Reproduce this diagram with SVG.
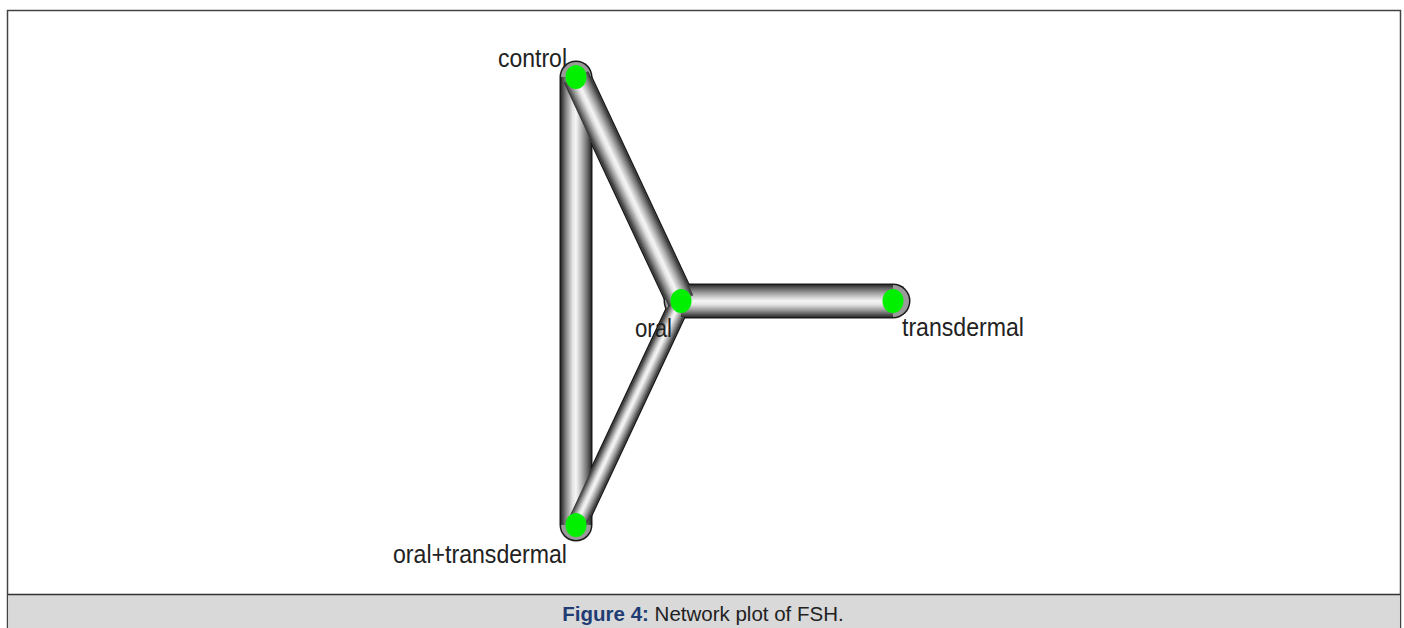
<svg xmlns="http://www.w3.org/2000/svg" width="1404" height="628" viewBox="0 0 1404 628">
  <defs>
    <linearGradient id="tube" x1="0" y1="0" x2="0" y2="1">
      <stop offset="0" stop-color="#2e2e2e"/>
      <stop offset="0.12" stop-color="#6a6a6a"/>
      <stop offset="0.3" stop-color="#b2b2b2"/>
      <stop offset="0.5" stop-color="#f6f6f6"/>
      <stop offset="0.62" stop-color="#e2e2e2"/>
      <stop offset="0.82" stop-color="#8a8a8a"/>
      <stop offset="1" stop-color="#2e2e2e"/>
    </linearGradient>
    <style>
      .under { stroke: #1a1a1a; stroke-linecap: round; fill: none; }
      .capfill { stroke: #9a9a9a; stroke-linecap: round; fill: none; }
      .tube { fill: url(#tube); }
      .node { fill: #00f000; }
      .lbl { font-family: "Liberation Sans", Arial, sans-serif; font-size: 26px; fill: #222; }
      .cap { font-family: "Liberation Sans", Arial, sans-serif; font-size: 20.5px; fill: #222; }
      .capb { font-weight: bold; fill: #1f3c73; }
    </style>
  </defs>

  <!-- frame and caption band -->
  <rect x="7.5" y="10.5" width="1393" height="640" fill="#ffffff" stroke="#444" stroke-width="1.5"/>
  <rect x="8.25" y="595" width="1391.5" height="40" fill="#d9d9d9"/>
  <line x1="7.5" y1="594.5" x2="1400.5" y2="594.5" stroke="#333" stroke-width="1.5"/>
  <text class="cap" x="703" y="621" text-anchor="middle"><tspan class="capb">Figure 4:</tspan> Network plot of FSH.</text>

  <g id="edges">
    <!-- outline underlays -->
    <line class="under" x1="576" y1="77" x2="576" y2="525" stroke-width="33"/>
    <line class="under" x1="681" y1="301" x2="576" y2="525" stroke-width="22"/>
    <line class="under" x1="681" y1="301" x2="893" y2="301" stroke-width="35"/>
    <line class="under" x1="576" y1="77" x2="681" y2="301" stroke-width="30"/>
    <!-- rounded end fills -->
    <line class="capfill" x1="576" y1="77" x2="576" y2="525" stroke-width="30"/>
    <line class="capfill" x1="681" y1="301" x2="576" y2="525" stroke-width="19"/>
    <line class="capfill" x1="681" y1="301" x2="893" y2="301" stroke-width="32"/>
    <line class="capfill" x1="576" y1="77" x2="681" y2="301" stroke-width="27"/>
    <!-- shaded tubes -->
    <g id="edge-control-oraltrans" transform="translate(576,77) rotate(90)">
      <rect class="tube" x="0" y="-15" width="448" height="30"/>
    </g>
    <g id="edge-oral-oraltrans" transform="translate(681,301) rotate(115.12)">
      <rect class="tube" x="0" y="-9.5" width="247.4" height="19"/>
    </g>
    <g id="edge-oral-transdermal" transform="translate(681,301)">
      <rect class="tube" x="0" y="-16" width="212" height="32"/>
    </g>
    <g id="edge-control-oral" transform="translate(576,77) rotate(64.88)">
      <rect class="tube" x="0" y="-13.5" width="247.4" height="27"/>
    </g>
  </g>

  <g id="node-control">
    <ellipse class="node" cx="576" cy="77" rx="10.5" ry="12"/>
    <text class="lbl" x="498" y="67" textLength="69" lengthAdjust="spacingAndGlyphs">control</text>
  </g>
  <g id="node-oral">
    <ellipse class="node" cx="681" cy="301" rx="10.5" ry="12"/>
    <text class="lbl" x="635" y="337" textLength="37" lengthAdjust="spacingAndGlyphs">oral</text>
  </g>
  <g id="node-transdermal">
    <ellipse class="node" cx="893" cy="301" rx="10.5" ry="12"/>
    <text class="lbl" x="902" y="336" textLength="122" lengthAdjust="spacingAndGlyphs">transdermal</text>
  </g>
  <g id="node-oral-transdermal">
    <ellipse class="node" cx="576" cy="525" rx="10.5" ry="12"/>
    <text class="lbl" x="393" y="563" textLength="174" lengthAdjust="spacingAndGlyphs">oral+transdermal</text>
  </g>
</svg>
